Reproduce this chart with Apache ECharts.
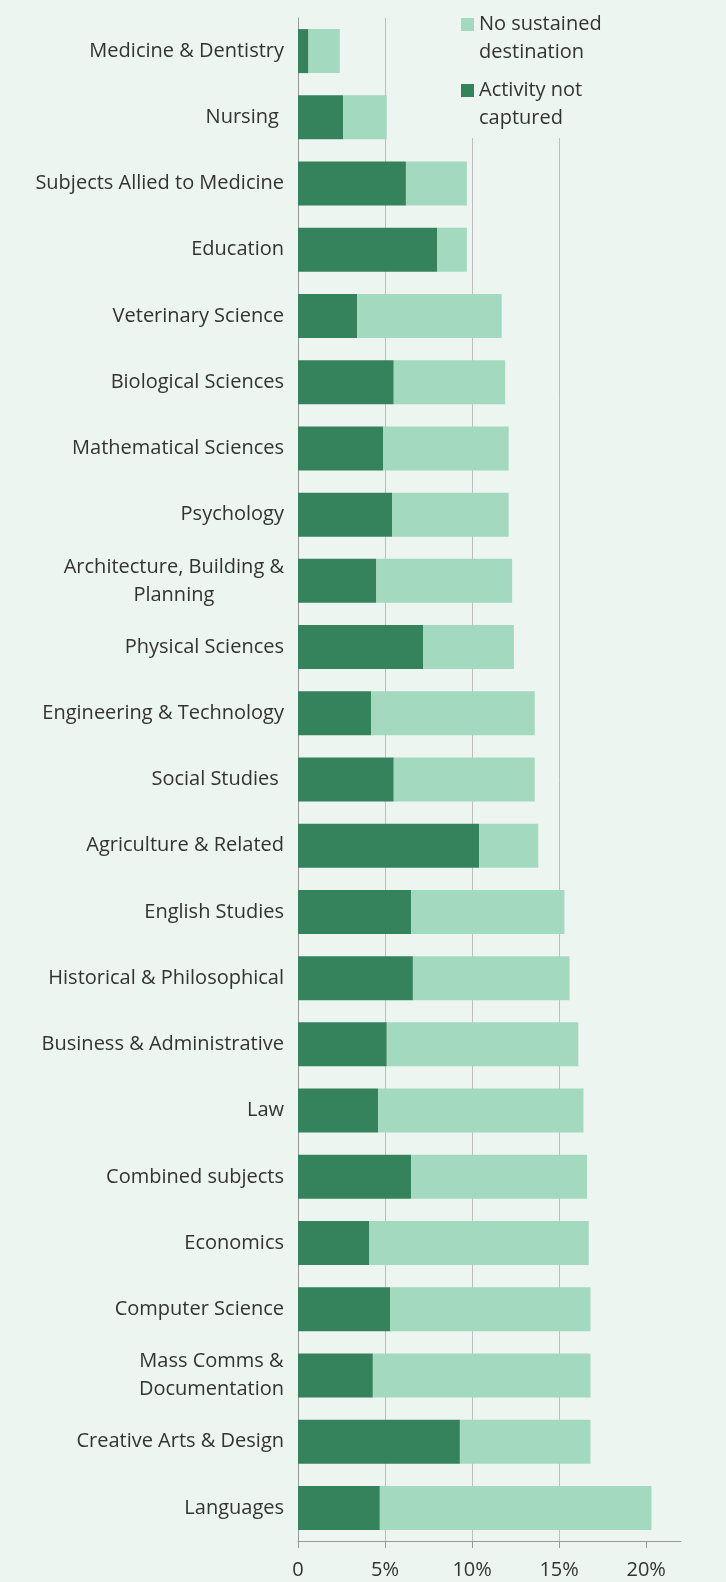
<!DOCTYPE html>
<html>
<head>
<meta charset="utf-8">
<script src="https://cdn.jsdelivr.net/npm/echarts@6/dist/echarts.min.js"></script>
<style>
  html, body { margin: 0; padding: 0; background: #ecf5f0; }
  #chart { width: 726px; height: 1582px; }
</style>
</head>
<body>
<div id="chart"></div>
<script>
const categories = [
  'Medicine & Dentistry', 'Nursing ', 'Subjects Allied to Medicine', 'Education',
  'Veterinary Science', 'Biological Sciences', 'Mathematical Sciences', 'Psychology',
  'Architecture, Building &\nPlanning', 'Physical Sciences', 'Engineering & Technology',
  'Social Studies ', 'Agriculture & Related', 'English Studies', 'Historical & Philosophical',
  'Business & Administrative', 'Law', 'Combined subjects', 'Economics', 'Computer Science',
  'Mass Comms &\nDocumentation', 'Creative Arts & Design', 'Languages'
];
const activityNotCaptured = [0.6, 2.6, 6.2, 8.0, 3.4, 5.5, 4.9, 5.4, 4.5, 7.2, 4.2, 5.5, 10.4, 6.5, 6.6, 5.1, 4.6, 6.5, 4.1, 5.3, 4.3, 9.3, 4.7];
const noSustainedDestination = [1.8, 2.5, 3.5, 1.7, 8.3, 6.4, 7.2, 6.7, 7.8, 5.2, 9.4, 8.1, 3.4, 8.8, 9.0, 11.0, 11.8, 10.1, 12.6, 11.5, 12.5, 7.5, 15.6];
const tickValues = [0, 5, 10, 15, 20];
const seriesNames = ['No sustained destination', 'Activity not captured'];
const legendLabels = {
  'No sustained destination': 'No sustained\ndestination',
  'Activity not captured': 'Activity not\ncaptured'
};

const FONT = "'Open Sans', 'Noto Sans', sans-serif";
const chart = echarts.init(document.getElementById('chart'), null, { renderer: 'canvas' });
chart.setOption({
  backgroundColor: '#ecf5f0',
  animation: false,
  textStyle: { fontFamily: FONT },
  grid: { left: 298, right: 45, top: 18, bottom: 41 },
  legend: {
    data: seriesNames,
    orient: 'vertical',
    left: 453,
    top: 0,
    padding: [11, 8, 6, 8],
    itemGap: 11,
    itemWidth: 13,
    itemHeight: 55,
    icon: 'path://M0,7H13V20H0Z M0,0H0.01V0.01H0Z M12.99,54.99H13V55H12.99Z',
    backgroundColor: '#ecf5f0',
    formatter: name => legendLabels[name],
    textStyle: { fontSize: 20, lineHeight: 27.5, color: '#333', fontFamily: FONT }
  },
  xAxis: {
    type: 'value',
    min: 0,
    max: 22,
    interval: 5,
    axisLine: { show: true, lineStyle: { color: '#999', width: 1 } },
    axisTick: { show: true, length: 7, customValues: tickValues, lineStyle: { color: '#999' } },
    axisLabel: {
      customValues: tickValues,
      margin: 19,
      fontSize: 20,
      color: '#333',
      fontFamily: FONT,
      formatter: v => v === 0 ? '0' : v + '%'
    },
    splitLine: { show: true, showMinLine: false, showMaxLine: false, lineStyle: { color: '#bdbdbd', width: 1 } }
  },
  yAxis: {
    type: 'category',
    data: categories,
    inverse: true,
    axisLine: { show: true, lineStyle: { color: '#999', width: 1 } },
    axisTick: { show: false },
    axisLabel: {
      margin: 14,
      formatter: v => v.split('\n').map(l => '{c|' + l + '}').join('\n'),
      rich: {
        c: { align: 'center', fontSize: 20, lineHeight: 28, color: '#333', fontFamily: FONT }
      }
    }
  },
  series: [
    {
      name: 'Activity not captured',
      type: 'bar',
      stack: 'total',
      barWidth: 44,
      itemStyle: { color: '#35835c' },
      data: activityNotCaptured
    },
    {
      name: 'No sustained destination',
      type: 'bar',
      stack: 'total',
      barWidth: 44,
      itemStyle: { color: '#a3d9bf' },
      data: noSustainedDestination
    }
  ]
});
</script>
</body>
</html>
